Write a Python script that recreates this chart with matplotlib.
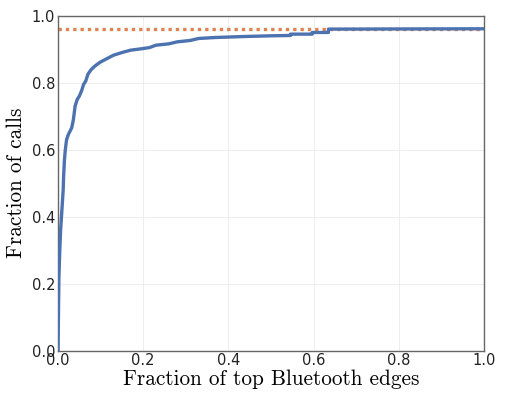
import matplotlib
matplotlib.use("Agg")
import matplotlib.pyplot as plt

# CDF of calls covered by the top Bluetooth edges
frac_edges = [0.0, 0.001, 0.002, 0.004, 0.006, 0.008, 0.010, 0.012, 0.013, 0.015,
              0.017, 0.020, 0.024, 0.028, 0.032, 0.036, 0.040, 0.045, 0.050, 0.055,
              0.060, 0.065, 0.070, 0.077, 0.085, 0.093, 0.10, 0.115, 0.13, 0.15,
              0.17, 0.20, 0.215, 0.23, 0.26, 0.28, 0.31, 0.33, 0.37, 0.44, 0.50,
              0.546, 0.546, 0.597, 0.597, 0.635, 0.635, 1.0]
frac_calls = [0.0, 0.12, 0.22, 0.30, 0.36, 0.40, 0.44, 0.48, 0.52, 0.57,
              0.60, 0.63, 0.645, 0.655, 0.665, 0.69, 0.73, 0.75, 0.76, 0.775,
              0.795, 0.805, 0.825, 0.838, 0.848, 0.856, 0.862, 0.872, 0.882, 0.89,
              0.897, 0.902, 0.905, 0.912, 0.916, 0.922, 0.926, 0.932, 0.935, 0.938, 0.940,
              0.941, 0.945, 0.945, 0.950, 0.950, 0.960, 0.961]
ceiling = 0.96

fig = plt.figure(figsize=(5.05, 3.93), dpi=100)
ax = fig.add_axes([0.115, 0.108, 0.843, 0.852])

ax.axhline(ceiling, color="#dd8452", linewidth=2.4, linestyle=(0, (1, 1.2)), zorder=2)
ax.plot(frac_edges, frac_calls, color="#4c72b0", linewidth=2.4, zorder=3)

ax.set_xlim(0, 1)
ax.set_ylim(0, 1)
ax.grid(True, color="#eeeeee", linewidth=0.8)
ax.set_axisbelow(True)
for s in ax.spines.values():
    s.set_color("#666666")
    s.set_linewidth(1.0)
ax.tick_params(axis="both", length=0, labelsize=10.5, pad=2, colors="#222222")

ax.set_xlabel("Fraction of top Bluetooth edges", fontname="cmr10", fontsize=15.3, labelpad=1)
ax.set_ylabel("Fraction of calls", fontname="cmr10", fontsize=15.3, labelpad=4)

plt.savefig("out.png", dpi=100)
